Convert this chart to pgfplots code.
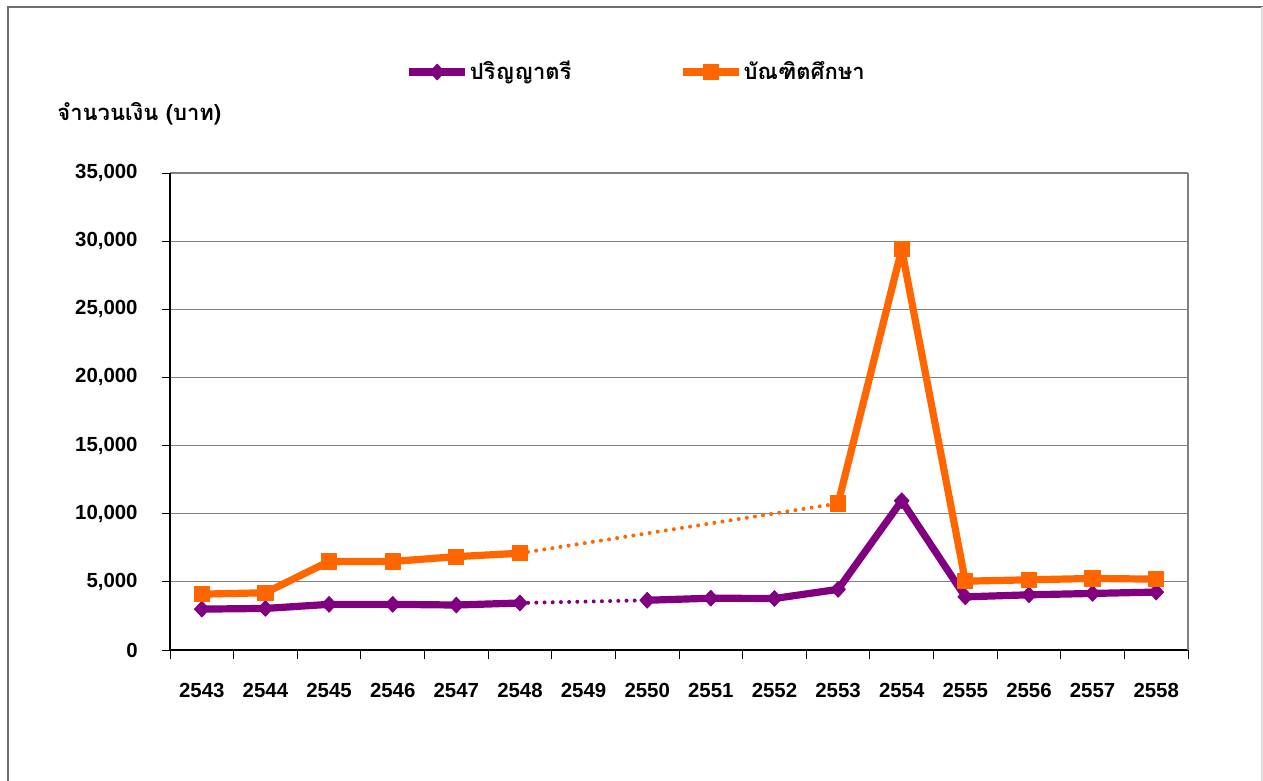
\documentclass[border=0pt]{standalone}
\usepackage{fontspec}
\setmainfont{Liberation Sans}
\newfontfamily\thaifont[Script=Thai]{Loma}
\usepackage{pgfplots}
\pgfplotsset{compat=1.18}
\definecolor{plum}{RGB}{128,0,128}
\definecolor{tangerine}{RGB}{255,102,0}
\definecolor{gridgray}{RGB}{128,128,128}
\definecolor{framegray}{RGB}{110,110,110}

\begin{document}
\begin{tikzpicture}
% page frame, 1px = 0.5pt
\path[use as bounding box] (0,0) rectangle (631.5pt,-390.5pt);
\draw[framegray, line width=1pt] (4pt,-390.5pt) -- (4pt,-3.5pt) -- (631.5pt,-3.5pt);
\draw[gray!25, line width=0.8pt] (631pt,-3.5pt) -- (631pt,-390.5pt);

\begin{axis}[
  at={(85pt,-325pt)}, anchor=south west,
  width=509pt, height=238.5pt, scale only axis,
  xmin=-0.5, xmax=15.5, ymin=0, ymax=35000,
  axis x line*=bottom, axis y line*=left,
  axis line style={black, line width=0.6pt},
  xtick={0,...,15},
  xticklabels={2543,2544,2545,2546,2547,2548,2549,2550,2551,2552,2553,2554,2555,2556,2557,2558},
  minor xtick={-0.5,0.5,...,15.5},
  major x tick style={draw=none},
  minor x tick style={black, line width=0.5pt},
  minor tick length=4.5pt,
  ytick={0,5000,...,35000},
  major y tick style={black, line width=0.5pt},
  major tick length=4pt,
  tick align=outside,
  ymajorgrids,
  grid style={gridgray, line width=0.6pt},
  scaled y ticks=false,
  /pgf/number format/.cd, fixed, 1000 sep={,}, assume math mode=true,
  /pgfplots/.cd,
  tick label style={font=\bfseries\fontsize{10.2}{12}\selectfont},
  x tick label style={anchor=base, yshift=-19.5pt, inner sep=0pt},
  y tick label style={anchor=east, xshift=-12pt, inner sep=0pt},
  unbounded coords=jump,
  legend columns=2,
  legend style={at={(axis description cs:0.231,1.2117)}, anchor=west,
    draw=none, fill=none, inner sep=0pt, nodes={inner sep=0.5pt},
    font=\thaifont\bfseries\fontsize{11}{13}\selectfont,
    /tikz/every even column/.append style={column sep=53.5pt}},
  legend cell align=left,
  legend image code/.code={\draw[#1, mark repeat=2, mark phase=2]
    plot coordinates {(0pt,0pt)(14pt,0pt)(28pt,0pt)};},
  clip=false,
]
% ปริญญาตรี (no 2549 value)
\addplot[plum, line width=3.6pt, line join=round,
  mark=diamond*, mark size=3.9pt,
  mark options={solid, fill=plum, line width=0.5pt, xscale=1.25}]
  coordinates {(0,3000)(1,3050)(2,3350)(3,3350)(4,3300)(5,3450)(6,nan)
  (7,3650)(8,3800)(9,3780)(10,4450)(11,10950)(12,3900)(13,4050)(14,4150)(15,4250)};
\addlegendentry{ปริญญาตรี}
% บัณฑิตศึกษา (no 2549-2552 values)
\addplot[tangerine, line width=3.6pt, line join=round,
  mark=square*, mark size=3.8pt, mark options={solid, fill=tangerine, line width=0.5pt}]
  coordinates {(0,4100)(1,4200)(2,6500)(3,6500)(4,6850)(5,7100)(6,nan)
  (10,10750)(11,29400)(12,5050)(13,5150)(14,5250)(15,5200)};
\addlegendentry{บัณฑิตศึกษา}
% dotted bridges over the gaps
\addplot[plum, line width=2pt, line cap=round, dash pattern=on 0pt off 4.1pt, forget plot]
  coordinates {(5,3450)(7,3650)};
\addplot[tangerine, line width=2pt, line cap=round, dash pattern=on 0pt off 4.1pt, forget plot]
  coordinates {(5,7100)(10,10750)};
% grey right edge of plot area
\draw[gridgray, line width=1pt] (rel axis cs:1,0) -- (rel axis cs:1,1);
\end{axis}
\node[anchor=west, inner sep=0pt, font=\thaifont\bfseries\fontsize{11}{13}\selectfont]
  at (28.5pt,-57pt) {จำนวนเงิน (บาท)};
\end{tikzpicture}
\end{document}
